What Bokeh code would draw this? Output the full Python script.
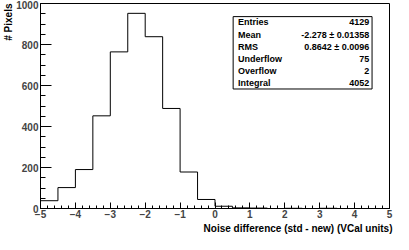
from bokeh.plotting import figure
from bokeh.models import Label, BoxAnnotation, FixedTicker, Range1d, Title
from bokeh.embed import file_html
from bokeh.resources import INLINE

# ---- data ----
bin_edges = [-5.0, -4.5, -4.0, -3.5, -3.0, -2.5, -2.0, -1.5, -1.0, -0.5, 0.0,
             0.5, 1.0, 1.5, 2.0, 2.5, 3.0, 3.5, 4.0, 4.5, 5.0]
counts = [38, 102, 190, 452, 764, 952, 838, 488, 178, 44, 11,
          3, 2, 0, 1, 0, 1, 0, 0, 0]
x_ticks = [-5, -4, -3, -2, -1, 0, 1, 2, 3, 4, 5]
y_ticks = [0, 200, 400, 600, 800, 1000]
stat_names = ["Entries", "Mean", "RMS", "Underflow", "Overflow", "Integral"]
stat_values = ["4129", "-2.278 \u00b1 0.01358", "0.8642 \u00b1 0.0096", "75", "2", "4052"]
x_title = "Noise difference (std - new) (VCal units)"
y_title = "# Pixels"

W, H = 393, 234
BL, BR, BT, BB = 35, 4, 3, 26
XMIN, XMAX, YMIN, YMAX = -5, 5, 0, 1000

FONT = "Liberation Sans"

p = figure(width=W, height=H, output_backend="svg", toolbar_location=None,
           x_range=Range1d(XMIN, XMAX), y_range=Range1d(YMIN, YMAX),
           min_border_left=BL, min_border_right=BR, min_border_top=BT, min_border_bottom=BB)
p.background_fill_color = "white"
p.border_fill_color = "white"
p.outline_line_color = "black"
p.outline_line_width = 1
p.grid.visible = False

# histogram outline
p.step(x=bin_edges, y=counts + [counts[-1]], mode="after", line_color="black", line_width=1)

# axes
xa = p.xaxis[0]
xa.ticker = FixedTicker(ticks=x_ticks, minor_ticks=[XMIN + 0.2 * i for i in range(51)])
xa.major_tick_in = 6
xa.major_tick_out = 0
xa.minor_tick_in = 3
xa.minor_tick_out = 0
xa.major_label_text_font = FONT
xa.major_label_text_font_style = "bold"
xa.major_label_text_font_size = "10px"
xa.major_label_standoff = 1
xa.axis_line_color = "black"
xa.major_tick_line_color = "black"
xa.minor_tick_line_color = "black"

ya = p.yaxis[0]
ya.ticker = FixedTicker(ticks=y_ticks, minor_ticks=[50 * i for i in range(21)])
ya.major_tick_in = 11
ya.major_tick_out = 0
ya.minor_tick_in = 5
ya.minor_tick_out = 0
ya.major_label_text_font = FONT
ya.major_label_text_font_style = "bold"
ya.major_label_text_font_size = "10px"
ya.major_label_standoff = 2
ya.axis_line_color = "black"
ya.major_tick_line_color = "black"
ya.minor_tick_line_color = "black"

# axis titles as side titles (right-aligned like ROOT)
p.add_layout(Title(text=x_title, align="right", text_font=FONT, text_font_style="bold",
                   text_font_size="10px", text_color="black", standoff=0, offset=-3), "below")
p.add_layout(Title(text=y_title, align="right", text_font=FONT, text_font_style="bold",
                   text_font_size="10px", text_color="black", standoff=0, offset=0), "left")

# stats box
def fx(f):
    return XMIN + f * (XMAX - XMIN)

def fy(f):
    return YMAX - f * (YMAX - YMIN)

p.add_layout(BoxAnnotation(left=fx(0.552), right=fx(0.950), top=fy(0.064), bottom=fy(0.417),
                           fill_color="white", fill_alpha=1.0, line_color="black",
                           line_width=1, line_alpha=1.0))
row_y = [0.0904, 0.153, 0.210, 0.269, 0.329, 0.387]
for name, val, ry in zip(stat_names, stat_values, row_y):
    p.add_layout(Label(x=fx(0.566), y=fy(ry), text=name, text_align="left",
                       text_baseline="middle", text_font=FONT, text_font_style="bold",
                       text_font_size="9px", text_color="black"))
    p.add_layout(Label(x=fx(0.942), y=fy(ry), text=val, text_align="right",
                       text_baseline="middle", text_font=FONT, text_font_style="bold",
                       text_font_size="9px", text_color="black"))

open("out.html", "w").write(file_html(p, INLINE))
